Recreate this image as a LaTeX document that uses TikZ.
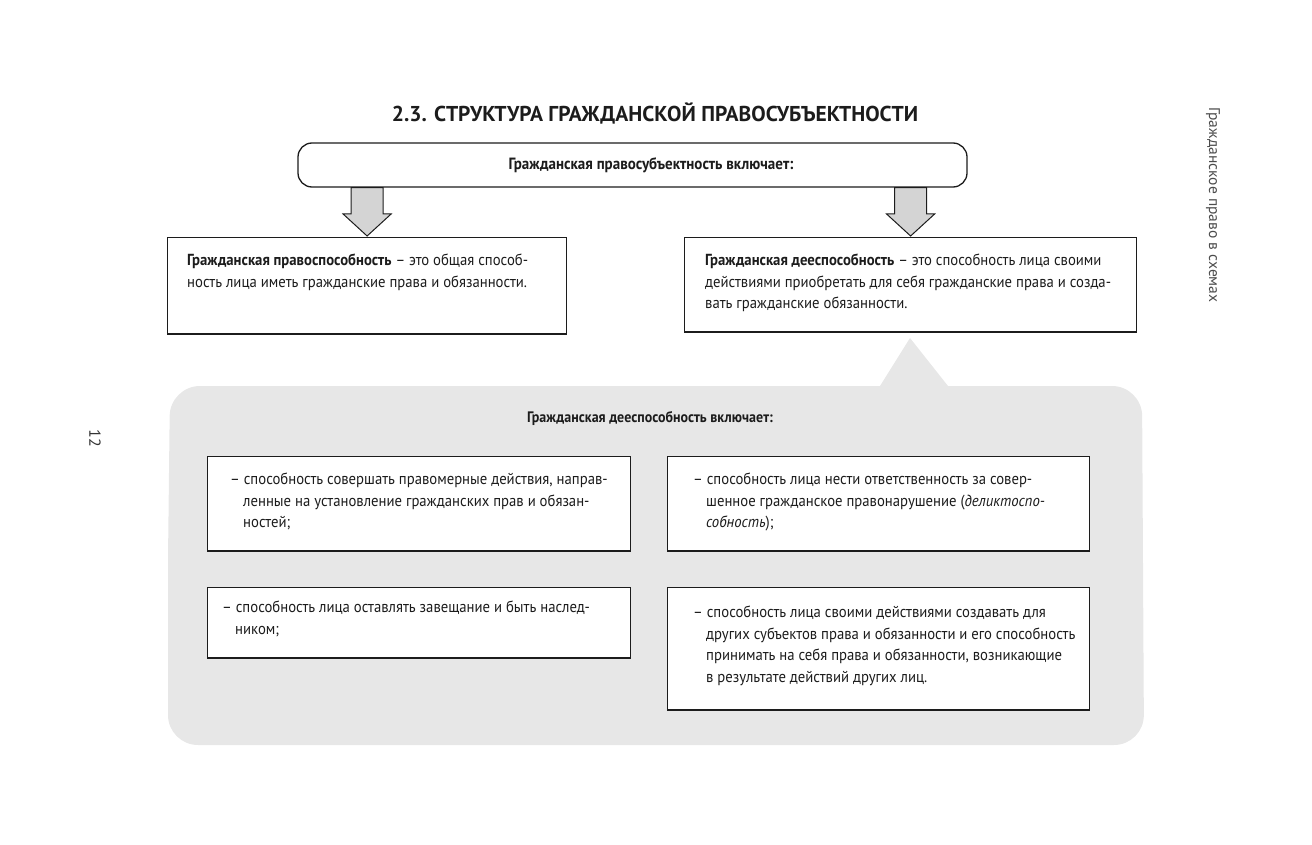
\documentclass[tikz,border=0pt]{standalone}
\usepackage{fontspec}
\setmainfont{PT Sans}[FakeStretch=0.92]
\newfontfamily\widefont{PT Sans}
\usetikzlibrary{calc}
\definecolor{blobgray}{HTML}{E7E7E7}
\definecolor{arrgray}{HTML}{D4D4D4}
\definecolor{ink}{HTML}{1C1C1C}
\tikzset{
  boxst/.style={draw=ink, line width=1.2pt, fill=white, anchor=north west, inner sep=0pt},
  txt/.style={anchor=north west, inner sep=0pt, align=left, font=\fontsize{16}{21.5}\selectfont, text=ink},
  headtxt/.style={inner sep=0pt, font=\fontsize{16.3}{19}\selectfont\bfseries, text=ink},
  arrst/.style={fill=arrgray, draw=ink, line width=1pt, line join=miter},
  bottomline/.style={draw=ink, line width=2.2pt}
}
\newcommand\hang{\hspace*{13pt}}
\begin{document}
\begin{tikzpicture}[x=1pt,y=-1pt]
\useasboundingbox (0,0) rectangle (1312,845);
% grey background blob
\fill[blobgray] (168,560) [rounded corners=30] -- (170,386) [sharp corners] -- (880,386) -- (910,338) -- (948,386) [rounded corners=30] -- (1142,386) -- (1144,745) -- (168,745) [sharp corners] -- cycle;
% title
\node[inner sep=0pt, font=\widefont\fontsize{21.5}{24}\selectfont\bfseries, text=ink] (title) at (655,113) {2.3. СТРУКТУРА ГРАЖДАНСКОЙ ПРАВОСУБЪЕКТНОСТИ};
% side texts
\node[inner sep=0pt, rotate=-90, font=\widefont\fontsize{15.5}{18}\selectfont, text=black!70] (side) at (1213,205) {Гражданское право в схемах};
\node[inner sep=0pt, rotate=-90, font=\widefont\fontsize{16}{18}\selectfont, text=black!80] (page) at (95,438) {12};
% top box
\node[draw=ink, line width=1.3pt, rounded corners=14, minimum width=669pt, minimum height=44pt, inner sep=0pt, fill=white] (top) at (632.5,165) {};
\node[headtxt] (toptxt) at (651,165) {Гражданская правосубъектность включает:};
% level-2 boxes
\node[boxst, minimum width=399pt, minimum height=96pt] (L) at (167,237) {};
\node[boxst, minimum width=452pt, minimum height=94pt] (R) at (684,237) {};
\draw[bottomline] (L.south west) -- (L.south east);
\draw[bottomline] (R.south west) -- (R.south east);
% arrows
\path let \p1=(top.south -| L.north), \p2=(L.north) in
  [arrst] (\x1-16pt,\y1) -- (\x1+16pt,\y1) -- (\x1+16pt,\y2+23pt) -- (\x1+24pt,\y2+23pt) -- (\x2,\y2+1pt) -- (\x1-24pt,\y2+23pt) -- (\x1-16pt,\y2+23pt) -- cycle;
\path let \p1=(top.south -| R.north), \p2=(R.north) in
  [arrst] (\x1-16pt,\y1) -- (\x1+16pt,\y1) -- (\x1+16pt,\y2+23pt) -- (\x1+24pt,\y2+23pt) -- (\x2,\y2+1pt) -- (\x1-24pt,\y2+23pt) -- (\x1-16pt,\y2+23pt) -- cycle;
\node[txt] (Lt) at (187,254) {\textbf{Гражданская правоспособность} – это общая способ-\\ность лица иметь гражданские права и обязанности.};
\node[txt] (Rt) at (705,254) {\textbf{Гражданская дееспособность} – это способность лица своими\\действиями приобретать для себя гражданские права и созда-\\вать гражданские обязанности.};
% second heading
\node[headtxt, font=\fontsize{15.2}{18}\selectfont\bfseries] (sub) at (650,418) {Гражданская дееспособность включает:};
% item boxes
\node[boxst, minimum width=423pt, minimum height=94pt] (A) at (207,456) {};
\node[boxst, minimum width=422pt, minimum height=94pt] (B) at (667,456) {};
\node[boxst, minimum width=423pt, minimum height=70pt] (C) at (207,587) {};
\node[boxst, minimum width=422pt, minimum height=122pt] (D) at (667,587) {};
\foreach \b in {A,B,C,D} {\draw[bottomline] (\b.south west) -- (\b.south east);}
\node[txt] (At) at (230,473) {– способность совершать правомерные действия, направ-\\\hang ленные на установление гражданских прав и обязан-\\\hang ностей;};
\node[txt] (Bt) at (693,473) {– способность лица нести ответственность за совер-\\\hang шенное гражданское правонарушение (\textit{деликтоспо-}\\\hang \textit{собность});};
\node[txt] (Ct) at (222,601) {– способность лица оставлять завещание и быть наслед-\\\hang ником;};
\node[txt] (Dt) at (693,606) {– способность лица своими действиями создавать для\\\hang других субъектов права и обязанности и его способность\\\hang принимать на себя права и обязанности, возникающие\\\hang в результате действий других лиц.};
\end{tikzpicture}
\end{document}
